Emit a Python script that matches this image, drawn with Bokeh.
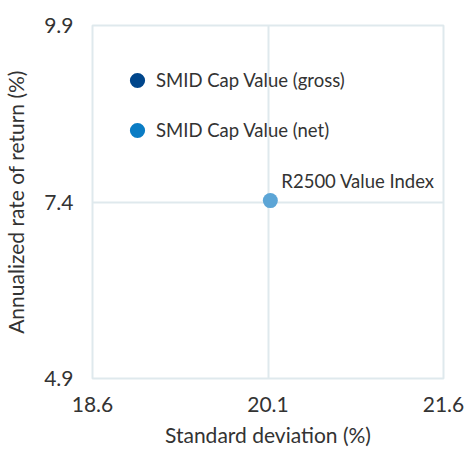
from bokeh.plotting import figure
from bokeh.models import FixedTicker, Legend, LegendItem, ColumnDataSource
from bokeh.core.properties import value
from bokeh.embed import file_html
from bokeh.resources import INLINE

# Data
series_names = ["SMID Cap Value (gross)", "SMID Cap Value (net)", "R2500 Value Index"]
series_colors = ["#00468b", "#0a7cc4", "#5ca5d6"]
std_dev = [None, None, 20.12]
returns = [None, None, 7.42]
x_ticks = [18.6, 20.1, 21.6]
y_ticks = [4.9, 7.4, 9.9]

FONT = "Lato"
TXT = "#333333"
GRID = "#dfe9ed"

p = figure(width=452, height=434, output_backend="svg", toolbar_location=None,
           x_range=(x_ticks[0], x_ticks[-1]), y_range=(y_ticks[0], y_ticks[-1]),
           frame_width=351, frame_height=353,
           min_border_left=80, min_border_top=25, min_border_right=21, min_border_bottom=10)

p.outline_line_color = GRID
p.outline_line_width = 2
p.background_fill_color = "white"

for ax in (p.xaxis[0], p.yaxis[0]):
    ax.axis_line_color = None
    ax.major_tick_line_color = None
    ax.minor_tick_line_color = None
    ax.major_label_text_font = FONT
    ax.major_label_text_font_size = "21px"
    ax.major_label_text_color = TXT
    ax.axis_label_text_font = FONT
    ax.axis_label_text_font_size = "21px"
    ax.axis_label_text_font_style = "normal"
    ax.axis_label_text_color = TXT

p.xaxis.ticker = FixedTicker(ticks=x_ticks)
p.yaxis.ticker = FixedTicker(ticks=y_ticks)
p.xaxis.axis_label = "Standard deviation (%)"
p.yaxis.axis_label = "Annualized rate of return (%)"
p.xaxis.major_label_standoff = 12
p.yaxis.major_label_standoff = 13
p.xaxis.axis_label_standoff = 7
p.yaxis.axis_label_standoff = 13

p.xgrid.grid_line_color = GRID
p.ygrid.grid_line_color = GRID
p.xgrid.grid_line_width = 2
p.ygrid.grid_line_width = 2

nan = float("nan")
items = []
for name, col, xv, yv in zip(series_names, series_colors, std_dev, returns):
    xs = [xv if xv is not None else nan]
    ys = [yv if yv is not None else nan]
    src = ColumnDataSource(dict(x=xs, y=ys, label=[name]))
    r = p.scatter("x", "y", source=src, size=15, fill_color=col, line_color=None)
    if xv is None:
        items.append(LegendItem(label=name, renderers=[r], index=0))
    else:
        p.text("x", "y", text="label", source=src, x_offset=11, y_offset=-20,
               text_font=value(FONT), text_font_size="18.5px", text_color=TXT,
               text_baseline="alphabetic", text_align="left")

legend = Legend(items=items, location=(26, 229), orientation="vertical",
                border_line_color=None, background_fill_alpha=0,
                padding=0, margin=0, spacing=12,
                glyph_width=38, glyph_height=38, label_standoff=-10,
                label_text_font=FONT, label_text_font_size="18.5px",
                label_text_color=TXT, label_height=20)
p.add_layout(legend)

open("out.html", "w").write(file_html(p, INLINE))
